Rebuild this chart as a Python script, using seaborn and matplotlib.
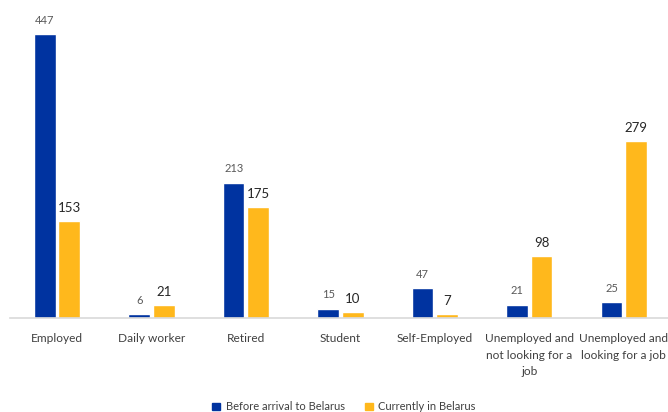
import matplotlib
matplotlib.use("Agg")
import matplotlib.pyplot as plt
import seaborn as sns
import pandas as pd
from matplotlib.patches import Patch

categories = [
    "Employed",
    "Daily worker",
    "Retired",
    "Student",
    "Self-Employed",
    "Unemployed and\nnot looking for a\njob",
    "Unemployed and\nlooking for a job",
]
before = [447, 6, 213, 15, 47, 21, 25]
current = [153, 21, 175, 10, 7, 98, 279]
series = ["Before arrival to Belarus", "Currently in Belarus"]
colors = ["#0033A0", "#FFB81C"]

sns.set_theme(style="white")
plt.rcParams["font.family"] = ["Lato", "DejaVu Sans"]

df = pd.DataFrame({
    "category": categories * 2,
    "value": before + current,
    "series": [series[0]] * len(categories) + [series[1]] * len(categories),
})

fig = plt.figure(figsize=(6.68, 4.12), dpi=100)
ax = fig.add_axes([0.0146, 0.228, 0.990, 0.74])

sns.barplot(data=df, x="category", y="value", hue="series", palette=colors,
            width=0.52, gap=0.12, order=categories, hue_order=series,
            legend=False, ax=ax, saturation=1)

ax.bar_label(ax.containers[0], padding=6, fontsize=8, color="#595959")
ax.bar_label(ax.containers[1], padding=5, fontsize=9.5, color="#262626")

ax.set_xlim(-0.5, 6.5)
ax.set_ylim(0, 480)
ax.set_xlabel("")
ax.set_ylabel("")
ax.set_yticks([])
for s in ["top", "right", "left"]:
    ax.spines[s].set_visible(False)
ax.spines["bottom"].set_color("#d9d9d9")
ax.spines["bottom"].set_linewidth(1.2)
ax.tick_params(axis="x", length=0, pad=11, labelsize=8.6, labelcolor="#404040")
for lbl in ax.get_xticklabels():
    lbl.set_linespacing(1.6)

handles = [Patch(color=c, label=l) for c, l in zip(colors, series)]
fig.legend(handles=handles, loc="lower center", bbox_to_anchor=(0.515, -0.025),
           ncol=2, frameon=False, fontsize=8, handlelength=0.7,
           handleheight=0.7, handletextpad=0.5, columnspacing=1.8,
           labelcolor="#404040")

fig.savefig("out.png", dpi=100)
